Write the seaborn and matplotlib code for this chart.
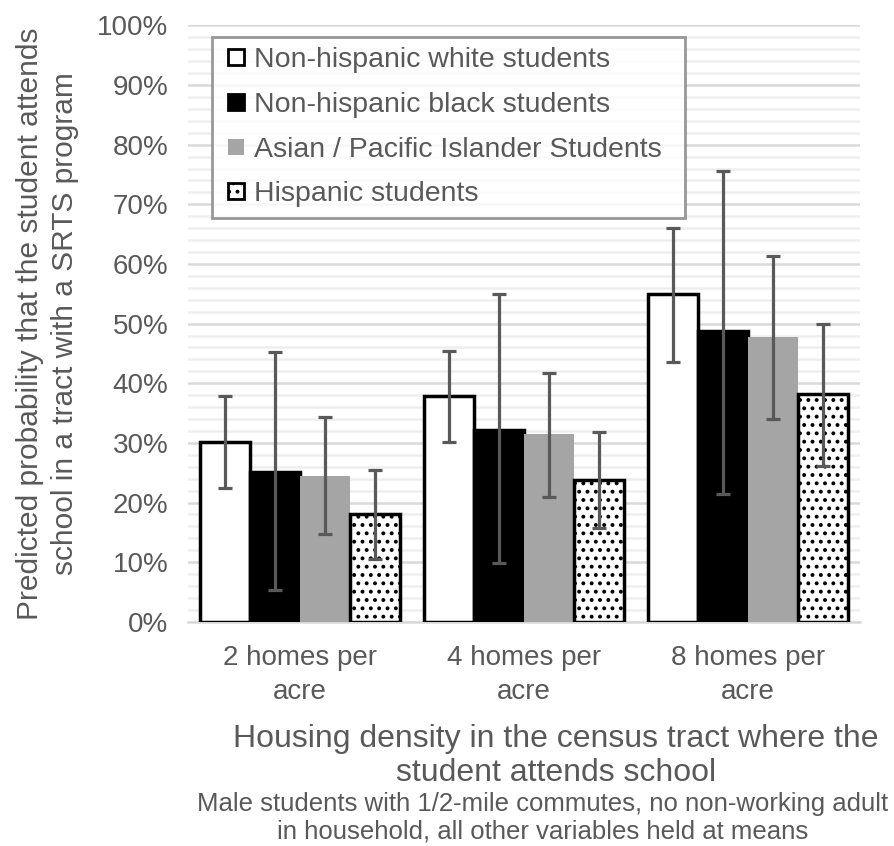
import numpy as np
import pandas as pd
import matplotlib
matplotlib.use("Agg")
import matplotlib.pyplot as plt
import seaborn as sns
from matplotlib.patches import Patch, Rectangle
from matplotlib.legend_handler import HandlerPatch
from matplotlib.ticker import MultipleLocator, PercentFormatter

# values (probabilities)
densities = ["2 homes per\nacre", "4 homes per\nacre", "8 homes per\nacre"]
groups = ["Non-hispanic white students", "Non-hispanic black students",
          "Asian / Pacific Islander Students", "Hispanic students"]
white = [0.302, 0.378, 0.550]
black = [0.252, 0.322, 0.487]
asian = [0.244, 0.315, 0.477]
hispanic = [0.181, 0.238, 0.382]
white_lo = [0.225, 0.302, 0.435]
white_hi = [0.378, 0.454, 0.660]
black_lo = [0.053, 0.098, 0.215]
black_hi = [0.452, 0.550, 0.756]
asian_lo = [0.147, 0.210, 0.340]
asian_hi = [0.343, 0.418, 0.614]
hisp_lo = [0.105, 0.158, 0.262]
hisp_hi = [0.254, 0.318, 0.500]

values = [white, black, asian, hispanic]
lows = [white_lo, black_lo, asian_lo, hisp_lo]
highs = [white_hi, black_hi, asian_hi, hisp_hi]

df = pd.DataFrame({
    "density": np.tile(densities, len(groups)),
    "group": np.repeat(groups, len(densities)),
    "prob": np.concatenate(values),
})

sns.set_style("white")
plt.rcParams["font.family"] = ["Liberation Sans", "DejaVu Sans"]
plt.rcParams["hatch.linewidth"] = 1.6
txt = "#595959"

fig = plt.figure(figsize=(8.94, 8.46), dpi=100)
ax = fig.add_axes([0.21, 0.265, 0.752, 0.705])

fills = ["white", "black", "#a5a5a5", "white"]
edges = ["black", "black", "#a5a5a5", "black"]
hatches = [None, None, None, ".."]

sns.barplot(data=df, x="density", y="prob", hue="group", hue_order=groups,
            order=densities, palette=dict(zip(groups, fills)), width=0.89,
            errorbar=None, saturation=1, legend=False, ax=ax, zorder=3)

bar_conts = list(ax.containers)
for i, cont in enumerate(bar_conts):
    xs = []
    for bar in cont:
        bar.set_facecolor(fills[i])
        bar.set_edgecolor(edges[i])
        bar.set_linewidth(2.5 if i != 2 else 0)
        if hatches[i]:
            bar.set_hatch(hatches[i])
        xs.append(bar.get_x() + bar.get_width() / 2)
    v = np.array(values[i])
    yerr = [v - np.array(lows[i]), np.array(highs[i]) - v]
    ax.errorbar(xs, v, yerr=yerr, fmt="none", ecolor=txt, elinewidth=2.3,
                capsize=5, capthick=2.3, zorder=4)

ax.set_ylim(0, 1)
ax.set_xlim(-0.5, 2.5)
ax.yaxis.set_major_locator(MultipleLocator(0.1))
ax.yaxis.set_minor_locator(MultipleLocator(0.02))
ax.yaxis.set_major_formatter(PercentFormatter(1.0, decimals=0))
ax.grid(axis="y", which="major", color="#d9d9d9", lw=1.8, zorder=0)
ax.grid(axis="y", which="minor", color="#eeeeee", lw=1.8, zorder=0)
ax.set_axisbelow(True)
for s in ["top", "right", "left"]:
    ax.spines[s].set_visible(False)
ax.spines["bottom"].set_color("#d9d9d9")
ax.spines["bottom"].set_linewidth(1.8)
ax.tick_params(axis="both", which="both", length=0, labelsize=20, colors=txt)
ax.tick_params(axis="y", pad=14)
ax.tick_params(axis="x", pad=17)
for lab in ax.get_xticklabels():
    lab.set_linespacing(1.4)

ax.set_ylabel("Predicted probability that the student attends\nschool in a tract with a SRTS program",
              fontsize=21.5, color=txt, labelpad=13, linespacing=1.33)
ax.set_xlabel("Housing density in the census tract where the\nstudent attends school",
              fontsize=23, color=txt, linespacing=1.2)
ax.xaxis.set_label_coords(0.548, -0.171)
fig.text(0.607, 0.003, "Male students with 1/2-mile commutes, no non-working adult\nin household, all other variables held at means",
         ha="center", va="bottom", fontsize=18.5, color=txt, linespacing=1.2)


def small_square(legend, orig_handle, xdescent, ydescent, width, height, fontsize):
    s = 11.5
    return Rectangle((-xdescent + (width - s) / 2, -ydescent + (height - s) / 2), s, s)


handles = [Patch(facecolor=fills[i], edgecolor=edges[i], hatch=hatches[i],
                 linewidth=2 if i != 2 else 0) for i in range(4)]
leg = ax.legend(handles, groups, loc="upper left",
                bbox_to_anchor=(0.036, 0.0, 0.704, 0.981), mode="expand",
                fontsize=20.5, frameon=True, fancybox=False, handlelength=1.0,
                handleheight=0.7, handletextpad=0.1, labelspacing=0.66,
                borderpad=0.36, borderaxespad=0, labelcolor=txt,
                handler_map={Patch: HandlerPatch(patch_func=small_square)})
leg.get_frame().set_edgecolor("#7f7f7f")
leg.get_frame().set_linewidth(2)

fig.savefig("out.png", dpi=100)
